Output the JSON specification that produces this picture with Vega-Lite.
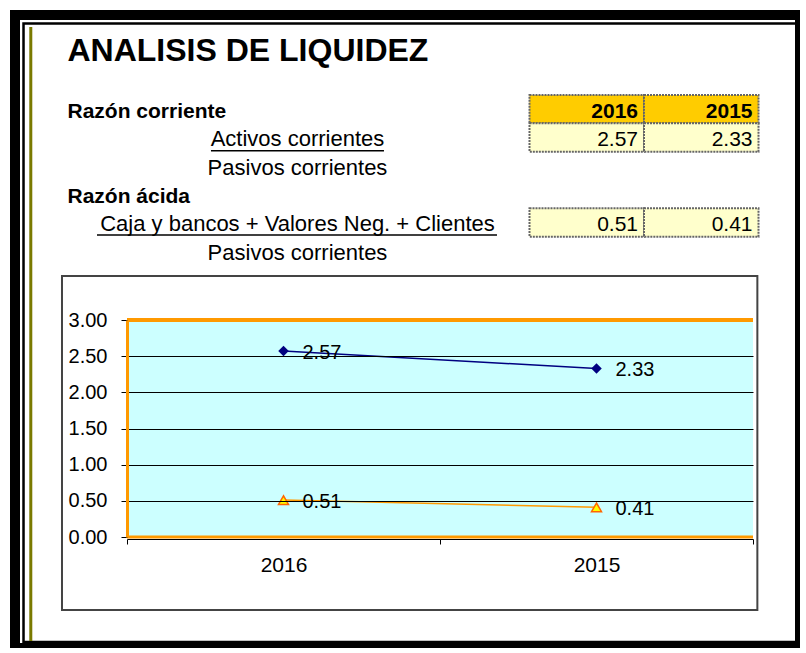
{
  "$schema": "https://vega.github.io/schema/vega-lite/v6.json",
  "padding": {"left": 15, "top": 15, "right": 0, "bottom": 0},
  "background": "white",
  "width": 785,
  "height": 633,
  "view": {"fill": "white", "stroke": "black", "strokeWidth": 10},
  "config": {"font": "Liberation Sans"},
  "datasets": {
    "ratios": [
      {"razon": "Razón corriente", "anio": "2016", "valor": 2.57},
      {"razon": "Razón corriente", "anio": "2015", "valor": 2.33},
      {"razon": "Razón ácida", "anio": "2016", "valor": 0.51},
      {"razon": "Razón ácida", "anio": "2015", "valor": 0.41}
    ],
    "etiquetas": [
      {"texto": "Razón corriente", "fila": 1, "tipo": "razon"},
      {"texto": "Activos corrientes", "fila": 2, "tipo": "numerador"},
      {"texto": "Pasivos corrientes", "fila": 3, "tipo": "denominador"},
      {"texto": "Razón ácida", "fila": 4, "tipo": "razon"},
      {"texto": "Caja y bancos + Valores Neg. + Clientes", "fila": 5, "tipo": "numerador"},
      {"texto": "Pasivos corrientes", "fila": 6, "tipo": "denominador"}
    ]
  },
  "resolve": {"scale": {"x": "independent", "y": "independent"}, "axis": {"x": "independent", "y": "independent"}},
  "layer": [
    {
      "layer": [
        {
          "data": {"values": [{}]},
          "mark": {"type": "rect", "fillOpacity": 0, "stroke": "black", "strokeWidth": 2.5},
          "encoding": {
            "x": {"datum": -0.419, "type": "quantitative", "scale": {"domain": [-0.4934, 6.3624], "nice": false, "zero": false}, "axis": null},
            "x2": {"datum": 6.336},
            "y": {"datum": -2.024, "type": "quantitative", "scale": {"domain": [-2.324, 20.02], "nice": false, "zero": false, "reverse": true}, "axis": null},
            "y2": {"datum": 19.81}
          }
        },
        {
          "data": {"values": [{}]},
          "mark": {"type": "rule", "stroke": "#7A7A00", "strokeWidth": 3},
          "encoding": {
            "x": {"datum": -0.3555, "type": "quantitative", "axis": null},
            "y": {"datum": -1.9, "type": "quantitative", "axis": null},
            "y2": {"datum": 19.77}
          }
        },
        {
          "data": {"values": [{"titulo": "ANALISIS DE LIQUIDEZ"}]},
          "mark": {"type": "text", "align": "left", "baseline": "alphabetic", "dx": -4, "dy": 8, "fontSize": 32, "fontWeight": "bold", "color": "black"},
          "encoding": {
            "x": {"datum": 0, "type": "quantitative", "axis": null},
            "y": {"datum": -1, "type": "quantitative", "axis": null},
            "text": {"field": "titulo"}
          }
        },
        {
          "data": {"name": "etiquetas"},
          "transform": [{"filter": "datum.tipo == 'razon'"}],
          "mark": {"type": "text", "align": "left", "baseline": "alphabetic", "dx": -4, "dy": 9, "fontSize": 21, "fontWeight": "bold", "color": "black"},
          "encoding": {
            "x": {"datum": 0, "type": "quantitative", "axis": null},
            "y": {"field": "fila", "type": "quantitative", "axis": null},
            "text": {"field": "texto"}
          }
        },
        {
          "data": {"name": "etiquetas"},
          "transform": [{"filter": "datum.tipo != 'razon'"}],
          "mark": {"type": "text", "align": "center", "baseline": "alphabetic", "dx": -3, "dy": 9, "fontSize": 22, "color": "black"},
          "encoding": {
            "x": {"datum": 2, "type": "quantitative", "axis": null},
            "y": {"field": "fila", "type": "quantitative", "axis": null},
            "text": {"field": "texto"}
          }
        },
        {
          "data": {"values": [{}]},
          "mark": {"type": "rule", "stroke": "black", "strokeWidth": 1.5},
          "encoding": {
            "x": {"datum": 1.218, "type": "quantitative", "axis": null},
            "x2": {"datum": 2.729},
            "y": {"datum": 2.466, "type": "quantitative", "axis": null}
          }
        },
        {
          "data": {"values": [{}]},
          "mark": {"type": "rule", "stroke": "black", "strokeWidth": 1.5},
          "encoding": {
            "x": {"datum": 0.2227, "type": "quantitative", "axis": null},
            "x2": {"datum": 3.716},
            "y": {"datum": 5.442, "type": "quantitative", "axis": null}
          }
        },
        {
          "data": {"name": "ratios"},
          "transform": [{"filter": "datum.anio == '2016' && datum.razon == 'Razón corriente'"}],
          "layer": [
            {
              "mark": {"type": "rect", "fill": "#FFCC00", "stroke": "#666666", "strokeWidth": 2, "strokeDash": [2, 1]},
              "encoding": {
                "x": {"datum": 4, "type": "quantitative", "axis": null},
                "x2": {"datum": 5},
                "y": {"datum": 0.5, "type": "quantitative", "axis": null},
                "y2": {"datum": 1.5}
              }
            },
            {
              "mark": {"type": "text", "align": "right", "baseline": "alphabetic", "dx": -6, "dy": 9, "fontSize": 21, "fontWeight": "bold", "color": "black"},
              "encoding": {
                "x": {"datum": 5, "type": "quantitative", "axis": null},
                "y": {"datum": 1, "type": "quantitative", "axis": null},
                "text": {"field": "anio"}
              }
            },
            {
              "mark": {"type": "rect", "fill": "#FFFFCC", "stroke": "#666666", "strokeWidth": 2, "strokeDash": [2, 1]},
              "encoding": {
                "x": {"datum": 4, "type": "quantitative", "axis": null},
                "x2": {"datum": 5},
                "y": {"datum": 1.5, "type": "quantitative", "axis": null},
                "y2": {"datum": 2.5}
              }
            },
            {
              "mark": {"type": "text", "align": "right", "baseline": "alphabetic", "dx": -6, "dy": 9, "fontSize": 21, "color": "black"},
              "encoding": {
                "x": {"datum": 5, "type": "quantitative", "axis": null},
                "y": {"datum": 2, "type": "quantitative", "axis": null},
                "text": {"field": "valor", "type": "quantitative", "format": ".2f"}
              }
            }
          ]
        },
        {
          "data": {"name": "ratios"},
          "transform": [{"filter": "datum.anio == '2015' && datum.razon == 'Razón corriente'"}],
          "layer": [
            {
              "mark": {"type": "rect", "fill": "#FFCC00", "stroke": "#666666", "strokeWidth": 2, "strokeDash": [2, 1]},
              "encoding": {
                "x": {"datum": 5, "type": "quantitative", "axis": null},
                "x2": {"datum": 6},
                "y": {"datum": 0.5, "type": "quantitative", "axis": null},
                "y2": {"datum": 1.5}
              }
            },
            {
              "mark": {"type": "text", "align": "right", "baseline": "alphabetic", "dx": -6, "dy": 9, "fontSize": 21, "fontWeight": "bold", "color": "black"},
              "encoding": {
                "x": {"datum": 6, "type": "quantitative", "axis": null},
                "y": {"datum": 1, "type": "quantitative", "axis": null},
                "text": {"field": "anio"}
              }
            },
            {
              "mark": {"type": "rect", "fill": "#FFFFCC", "stroke": "#666666", "strokeWidth": 2, "strokeDash": [2, 1]},
              "encoding": {
                "x": {"datum": 5, "type": "quantitative", "axis": null},
                "x2": {"datum": 6},
                "y": {"datum": 1.5, "type": "quantitative", "axis": null},
                "y2": {"datum": 2.5}
              }
            },
            {
              "mark": {"type": "text", "align": "right", "baseline": "alphabetic", "dx": -6, "dy": 9, "fontSize": 21, "color": "black"},
              "encoding": {
                "x": {"datum": 6, "type": "quantitative", "axis": null},
                "y": {"datum": 2, "type": "quantitative", "axis": null},
                "text": {"field": "valor", "type": "quantitative", "format": ".2f"}
              }
            }
          ]
        },
        {
          "data": {"name": "ratios"},
          "transform": [{"filter": "datum.anio == '2016' && datum.razon == 'Razón ácida'"}],
          "layer": [
            {
              "mark": {"type": "rect", "fill": "#FFFFCC", "stroke": "#666666", "strokeWidth": 2, "strokeDash": [2, 1]},
              "encoding": {
                "x": {"datum": 4, "type": "quantitative", "axis": null},
                "x2": {"datum": 5},
                "y": {"datum": 4.5, "type": "quantitative", "axis": null},
                "y2": {"datum": 5.5}
              }
            },
            {
              "mark": {"type": "text", "align": "right", "baseline": "alphabetic", "dx": -6, "dy": 9, "fontSize": 21, "color": "black"},
              "encoding": {
                "x": {"datum": 5, "type": "quantitative", "axis": null},
                "y": {"datum": 5, "type": "quantitative", "axis": null},
                "text": {"field": "valor", "type": "quantitative", "format": ".2f"}
              }
            }
          ]
        },
        {
          "data": {"name": "ratios"},
          "transform": [{"filter": "datum.anio == '2015' && datum.razon == 'Razón ácida'"}],
          "layer": [
            {
              "mark": {"type": "rect", "fill": "#FFFFCC", "stroke": "#666666", "strokeWidth": 2, "strokeDash": [2, 1]},
              "encoding": {
                "x": {"datum": 5, "type": "quantitative", "axis": null},
                "x2": {"datum": 6},
                "y": {"datum": 4.5, "type": "quantitative", "axis": null},
                "y2": {"datum": 5.5}
              }
            },
            {
              "mark": {"type": "text", "align": "right", "baseline": "alphabetic", "dx": -6, "dy": 9, "fontSize": 21, "color": "black"},
              "encoding": {
                "x": {"datum": 6, "type": "quantitative", "axis": null},
                "y": {"datum": 5, "type": "quantitative", "axis": null},
                "text": {"field": "valor", "type": "quantitative", "format": ".2f"}
              }
            }
          ]
        },
        {
          "data": {"values": [{}]},
          "mark": {"type": "rect", "fill": "white", "stroke": "#444444", "strokeWidth": 2},
          "encoding": {
            "x": {"datum": -0.083, "type": "quantitative", "axis": null},
            "x2": {"datum": 5.99},
            "y": {"datum": 6.889, "type": "quantitative", "axis": null},
            "y2": {"datum": 18.68}
          }
        }
      ]
    },
    {
      "data": {"name": "ratios"},
      "encoding": {
        "x": {
          "field": "anio", "type": "ordinal", "sort": ["2016", "2015"],
          "scale": {"type": "band", "paddingInner": 0, "paddingOuter": 0, "range": [112, 738]},
          "axis": {"orient": "bottom", "offset": -109, "title": null, "labelAngle": 0, "labelFontSize": 21, "labelColor": "black", "labelPadding": 10, "tickBand": "extent", "tickSize": 5, "tickColor": "black", "domainColor": "black", "grid": false, "zindex": 1}
        },
        "y": {
          "field": "valor", "type": "quantitative",
          "scale": {"domain": [0, 3], "range": [522, 305], "nice": false, "zero": false},
          "axis": {"orient": "left", "offset": -112, "title": null, "values": [0, 0.5, 1, 1.5, 2, 2.5, 3], "format": ".2f", "labelFontSize": 20, "labelColor": "black", "labelPadding": 14, "tickSize": 6, "tickColor": "black", "domain": true, "domainColor": "#FF9900", "domainWidth": 3, "grid": true, "gridColor": "black", "gridWidth": 1, "gridOpacity": {"condition": {"test": "datum.value == 0 || datum.value == 3", "value": 0}, "value": 1}, "zindex": 1}
        }
      },
      "layer": [
        {
          "transform": [{"filter": "datum.razon == 'Razón corriente'"}],
          "mark": {"type": "rect", "fill": "#CCFFFF"},
          "encoding": {"y": {"datum": 0}, "y2": {"datum": 3}}
        },
        {
          "transform": [{"filter": "datum.razon == 'Razón corriente'"}],
          "mark": {"type": "tick", "color": "#FF9900", "thickness": 4, "size": 313, "opacity": 1},
          "encoding": {"y": {"datum": 3}}
        },
        {
          "transform": [{"filter": "datum.razon == 'Razón corriente'"}],
          "mark": {"type": "tick", "color": "#FF9900", "thickness": 3, "size": 313, "opacity": 1},
          "encoding": {"y": {"datum": 0}}
        },
        {
          "mark": {"type": "line", "strokeWidth": 1.5},
          "encoding": {
            "color": {"field": "razon", "type": "nominal", "scale": {"domain": ["Razón corriente", "Razón ácida"], "range": ["#000080", "#FF9900"]}, "legend": null}
          }
        },
        {
          "transform": [{"filter": "datum.razon == 'Razón corriente'"}],
          "mark": {"type": "point", "shape": "diamond", "filled": true, "color": "#000080", "size": 110, "opacity": 1}
        },
        {
          "transform": [{"filter": "datum.razon == 'Razón ácida'"}],
          "mark": {"type": "point", "shape": "triangle-up", "filled": true, "fill": "#FFFF00", "stroke": "#FF6600", "strokeWidth": 1.5, "size": 100, "opacity": 1}
        },
        {
          "mark": {"type": "text", "align": "left", "baseline": "middle", "dx": 19, "dy": 2, "fontSize": 20, "color": "black"},
          "encoding": {
            "text": {"field": "valor", "type": "quantitative", "format": ".2f"}
          }
        }
      ]
    }
  ]
}
